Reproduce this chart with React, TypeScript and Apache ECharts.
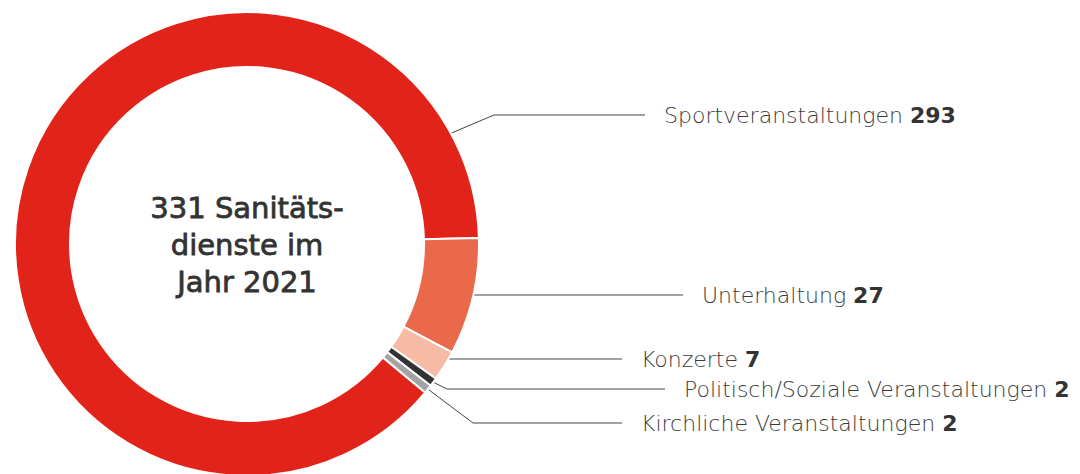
import React, { useEffect, useRef } from "react";
import * as echarts from "echarts";

const categories = [
  "Sportveranstaltungen",
  "Unterhaltung",
  "Konzerte",
  "Politisch/Soziale Veranstaltungen",
  "Kirchliche Veranstaltungen",
];
const values = [293, 27, 7, 2, 2];
const centerTitle = "331 Sanitäts-\ndienste im\nJahr 2021";

// styles & layout (not data)
const colors = ["#E2231A", "#E9694A", "#F7BBA5", "#333333", "#A3A3A3"];
const CX = 247;
const CY = 244;
const R_IN = 177;
const R_OUT = 232;
const labelX = [664, 702, 641, 684, 641];
const labelY = [115, 295, 359, 389, 423];
const elbowX = [494, null, null, 447, 473];
const FONT = "'DejaVu Sans', sans-serif";

export default function App() {
  const ref = useRef<HTMLDivElement>(null);
  useEffect(() => {
    if (!ref.current) return;
    const chart = echarts.init(ref.current, undefined, { renderer: "svg" });
    const total = values.reduce((a, b) => a + b, 0);
    const boundaryAngle = 1.5; // angle where first and second segment meet
    const startAngle = boundaryAngle + (360 * values[0]) / total;
    const data = categories.map((name, i) => ({
      name,
      value: values[i],
      itemStyle: { color: colors[i] },
    }));
    chart.setOption({
      animation: false,
      backgroundColor: "#ffffff",
      graphic: [
        {
          type: "text",
          x: CX,
          y: CY + 1,
          style: {
            text: centerTitle,
            x: 0,
            y: 0,
            align: "center",
            verticalAlign: "middle",
            fontFamily: FONT,
            fontSize: 29,
            fontWeight: "normal",
            lineHeight: 37,
            fill: "#333333",
            stroke: "#333333",
            lineWidth: 0.8,
          },
        },
      ],
      series: [
        {
          type: "pie",
          center: [CX, CY],
          radius: [R_IN, R_OUT],
          startAngle,
          clockwise: true,
          avoidLabelOverlap: false,
          silent: true,
          itemStyle: { borderColor: "#ffffff", borderWidth: 2 },
          label: {
            show: true,
            position: "outside",
            formatter: (p: any) => `{n|${p.name} }{v|${p.value}}`,
            rich: {
              n: {
                fontFamily: FONT,
                fontSize: 22,
                fontWeight: 200,
                color: "#3a3a3a",
              },
              v: {
                fontFamily: FONT,
                fontSize: 22,
                fontWeight: "bold",
                color: "#333333",
              },
            },
          },
          labelLine: {
            show: true,
            length: 10,
            length2: 10,
            smooth: false,
            lineStyle: { color: "#444444", width: 1 },
          },
          labelLayout: (params: any) => {
            const i = params.dataIndex;
            const ty = labelY[i];
            const tx = labelX[i];
            let start: number[];
            if (i === 0) {
              const a = (28.5 * Math.PI) / 180;
              start = [CX + R_OUT * Math.cos(a), CY - R_OUT * Math.sin(a)];
            } else if (i === 1 || i === 2) {
              const dy = ty - CY;
              start = [CX + Math.sqrt(R_OUT * R_OUT - dy * dy), ty];
            } else {
              start = params.labelLinePoints
                ? params.labelLinePoints[0]
                : [CX, CY];
            }
            const pts: number[][] = [start];
            if (elbowX[i] != null) pts.push([elbowX[i] as number, ty]);
            else pts.push([(start[0] + tx - 19) / 2, ty]);
            pts.push([tx - 19, ty]);
            return {
              x: tx,
              y: ty,
              align: "left",
              verticalAlign: "middle",
              labelLinePoints: pts,
            };
          },
          data,
        },
      ],
    });
    return () => chart.dispose();
  }, []);
  return (
    <div
      ref={ref}
      style={{
        position: "absolute",
        left: 0,
        top: 0,
        width: 1080,
        height: 474,
        background: "#fff",
      }}
    />
  );
}
